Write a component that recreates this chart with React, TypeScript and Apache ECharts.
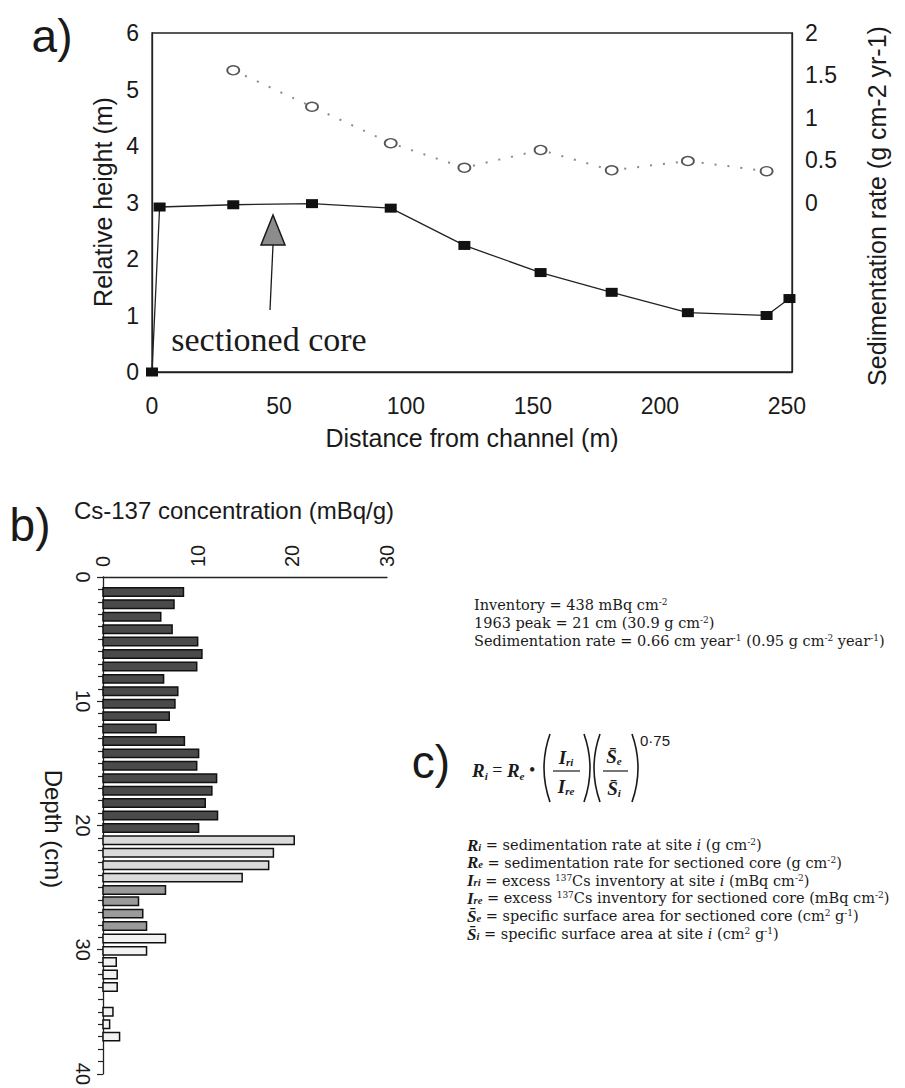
import React, { useEffect, useRef } from 'react';
import * as echarts from 'echarts';

// ---------- Panel a data ----------
const heightDistance = [0, 3, 32, 63, 94, 123, 153, 181, 211, 242, 251];
const relativeHeight = [0, 2.92, 2.96, 2.98, 2.9, 2.24, 1.76, 1.41, 1.05, 1.0, 1.3];
const sedDistance = [32, 63, 94, 123, 153, 181, 211, 242];
const sedRate = [1.56, 1.13, 0.7, 0.41, 0.62, 0.38, 0.49, 0.37];
const distanceTicks = [0, 50, 100, 150, 200, 250];

// ---------- Panel b data ----------
const depthCm = [
  1.2, 2.2, 3.2, 4.2, 5.2, 6.2, 7.2, 8.2, 9.2, 10.2, 11.2, 12.2, 13.2, 14.2, 15.2, 16.2, 17.2, 18.2,
  19.2, 20.2, 21.2, 22.2, 23.2, 24.2, 25.2, 26.1, 27.1, 28.1, 29.1, 30.1, 31, 32, 33, 35, 36, 37,
];
const cs137 = [
  8.5, 7.5, 6.1, 7.3, 10.0, 10.45, 9.9, 6.4, 7.9, 7.6, 7.0, 5.6, 8.6, 10.1, 9.9, 12.0, 11.5, 10.8,
  12.1, 10.1, 20.2, 18.0, 17.5, 14.7, 6.6, 3.75, 4.2, 4.6, 6.6, 4.6, 1.4, 1.5, 1.5, 1.05, 0.7, 1.75,
];

// ---------- Text ----------
const infoLines = [
  'Inventory = 438 mBq cm{sup|-2}',
  '1963 peak = 21 cm (30.9 g cm{sup|-2})',
  'Sedimentation rate = 0.66 cm year{sup|-1} (0.95 g cm{sup|-2} year{sup|-1})',
];
const legendLines = [
  '{it|R}{sub|i} = sedimentation rate at site {iti|i} (g cm{sup|-2})',
  '{it|R}{sub|e} = sedimentation rate for sectioned core (g cm{sup|-2})',
  '{it|I}{sub|ri} = excess {sup|137}Cs inventory at site {iti|i} (mBq cm{sup|-2})',
  '{it|I}{sub|re} = excess {sup|137}Cs inventory for sectioned core (mBq cm{sup|-2})',
  '{it|S\u0304}{sub|e} = specific surface area for sectioned core (cm{sup|2} g{sup|-1})',
  '{it|S\u0304}{sub|i} = specific surface area at site {iti|i} (cm{sup|2} g{sup|-1})',
];

const SANS = '"Liberation Sans", Arial, Helvetica, sans-serif';
const SERIF = '"Liberation Serif", "Times New Roman", serif';
const BODY = '"DejaVu Serif", "Liberation Serif", serif';
const INK = '#1a1a1a';

const bodyRich = {
  sup: { fontFamily: BODY, fontSize: 9, lineHeight: 9, verticalAlign: 'top', fill: INK },
  sub: { fontFamily: SERIF, fontSize: 10.5, lineHeight: 10, verticalAlign: 'bottom', fill: INK, fontStyle: 'italic', fontWeight: 'bold' },
  it: { fontFamily: SERIF, fontSize: 17, fontStyle: 'italic', fontWeight: 'bold', fill: INK },
  iti: { fontFamily: BODY, fontSize: 14.5, fontStyle: 'italic', fill: INK },
};

const eqRich = {
  it: { fontFamily: SERIF, fontSize: 19, fontStyle: 'italic', fontWeight: 'bold', fill: INK },
  sub: { fontFamily: SERIF, fontSize: 11, lineHeight: 11, verticalAlign: 'bottom', fontStyle: 'italic', fontWeight: 'bold', fill: INK },
};

function shade(depth: number): string {
  if (depth < 20.5) return '#4a4a4a';
  if (depth < 24.5) return '#dadada';
  if (depth < 28.5) return '#9a9a9a';
  return '#f2f2f2';
}

function txt(text: string, x: number, y: number, size: number, family: string, opts: any = {}) {
  return {
    type: 'text',
    x,
    y,
    rotation: opts.rotation || 0,
    style: {
      text,
      fill: INK,
      fontSize: size,
      fontFamily: family,
      fontStyle: opts.fontStyle || 'normal',
      fontWeight: opts.fontWeight || 'normal',
      align: opts.align || 'center',
      verticalAlign: opts.verticalAlign || 'middle',
      lineHeight: opts.lineHeight,
      rich: opts.rich,
    },
  };
}

function paren(x: number, top: number, bottom: number, left: boolean) {
  const mid = (top + bottom) / 2;
  return {
    type: 'bezierCurve',
    shape: left
      ? { x1: x + 6, y1: top, cpx1: x - 6, cpy1: mid, x2: x + 6, y2: bottom }
      : { x1: x, y1: top, cpx1: x + 12, cpy1: mid, x2: x, y2: bottom },
    style: { stroke: INK, lineWidth: 1.6, fill: null },
  };
}

function hline(x1: number, x2: number, y: number) {
  return { type: 'line', shape: { x1, y1: y, x2, y2: y }, style: { stroke: INK, lineWidth: 1.2 } };
}

export default function App() {
  const ref = useRef<HTMLDivElement>(null);

  useEffect(() => {
    if (!ref.current) return;
    const chart = echarts.init(ref.current, null, { renderer: 'svg' });

    const graphic: any[] = [
      // panel labels
      txt('a)', 52, 36, 46, SANS),
      txt('b)', 30, 525, 46, SANS),
      txt('c)', 431, 762, 46, SANS),
      // panel a titles
      txt('Relative height (m)', 103, 202, 25, SANS, { rotation: Math.PI / 2 }),
      txt('Distance from channel (m)', 472, 438, 25, SANS),
      txt('Sedimentation rate (g cm-2 yr-1)', 877, 206, 25, SANS, { rotation: Math.PI / 2 }),
      // annotation arrow
      {
        type: 'line',
        shape: { x1: 273, y1: 245, x2: 270, y2: 310 },
        style: { stroke: INK, lineWidth: 1.3 },
      },
      {
        type: 'polygon',
        shape: { points: [[273, 215], [261, 245], [285, 245]] },
        style: { fill: '#8c8c8c', stroke: INK, lineWidth: 1.5 },
      },
      txt('sectioned core', 269, 339, 34, SERIF),
      // panel b titles
      txt('Cs-137 concentration (mBq/g)', 234, 510, 24, SANS),
      txt('Depth (cm)', 53, 829, 24, SANS, { rotation: -Math.PI / 2 }),
      // equation
      txt('{it|R}{sub|i} = {it|R}{sub|e} \u2022', 472, 770, 18, SERIF, { align: 'left', lineHeight: 22, rich: eqRich }),
      paren(544, 734, 802, true),
      txt('{it|I}{sub|ri}', 566, 757, 18, SERIF, { lineHeight: 20, rich: eqRich }),
      hline(553, 580, 771),
      txt('{it|I}{sub|re}', 566, 786, 18, SERIF, { lineHeight: 20, rich: eqRich }),
      paren(584, 734, 802, false),
      paren(594, 734, 802, true),
      txt('{it|S\u0304}{sub|e}', 614, 756, 18, SERIF, { lineHeight: 20, rich: eqRich }),
      hline(603, 628, 771),
      txt('{it|S\u0304}{sub|i}', 614, 788, 18, SERIF, { lineHeight: 20, rich: eqRich }),
      paren(632, 734, 802, false),
      txt('0\u00b775', 640, 740, 15, SANS, { align: 'left' }),
    ];

    infoLines.forEach((line, i) => {
      graphic.push(
        txt(line, 474, 605 + i * 18, 14.5, BODY, { align: 'left', lineHeight: 15, rich: bodyRich }),
      );
    });
    legendLines.forEach((line, i) => {
      graphic.push(
        txt(line, 467, 845 + i * 17.8, 14.5, BODY, { align: 'left', lineHeight: 15, rich: bodyRich }),
      );
    });

    const option: any = {
      animation: false,
      backgroundColor: '#ffffff',
      grid: [
        { left: 152, top: 33, width: 640, height: 339, show: true, borderColor: '#222', borderWidth: 1.3, backgroundColor: 'transparent' },
        { left: 103, top: 577, width: 284, height: 500, show: false },
      ],
      xAxis: [
        {
          type: 'value',
          gridIndex: 0,
          min: 0,
          max: 252,
          interval: 50,
          axisLine: { show: true, lineStyle: { color: '#222', width: 1.3 } },
          axisTick: { show: false },
          splitLine: { show: false },
          axisLabel: {
            fontSize: 23,
            fontFamily: SANS,
            color: INK,
            margin: 22,
            showMaxLabel: false,
            formatter: (v: number) => (distanceTicks.includes(v) ? String(v) : ''),
          },
        },
        {
          type: 'value',
          gridIndex: 1,
          position: 'top',
          min: 0,
          max: 30,
          interval: 10,
          axisLine: { show: true, onZero: false, lineStyle: { color: '#222', width: 1.3 } },
          axisTick: { show: false },
          splitLine: { show: false },
          axisLabel: { fontSize: 20, fontFamily: SANS, color: INK, rotate: -90, margin: 10 },
        },
      ],
      yAxis: [
        {
          type: 'value',
          gridIndex: 0,
          min: 0,
          max: 6,
          interval: 1,
          axisLine: { show: true, lineStyle: { color: '#222', width: 1.3 } },
          axisTick: { show: false },
          splitLine: { show: false },
          axisLabel: { fontSize: 23, fontFamily: SANS, color: INK, margin: 13 },
        },
        {
          type: 'value',
          gridIndex: 0,
          position: 'right',
          min: -2,
          max: 2,
          interval: 0.5,
          axisLine: { show: true, lineStyle: { color: '#222', width: 1.3 } },
          axisTick: { show: false },
          splitLine: { show: false },
          axisLabel: {
            fontSize: 23,
            fontFamily: SANS,
            color: INK,
            margin: 13,
            formatter: (v: number) => (v >= 0 ? String(v) : ''),
          },
        },
        {
          type: 'value',
          gridIndex: 1,
          inverse: true,
          min: 0,
          max: 40,
          interval: 10,
          axisLine: { show: true, onZero: false, lineStyle: { color: '#222', width: 1.3 } },
          axisTick: { show: true, length: 6, lineStyle: { color: '#222', width: 1.2 } },
          minorTick: { show: true, splitNumber: 10, length: 5, lineStyle: { color: '#222', width: 1.2 } },
          splitLine: { show: false },
          axisLabel: { fontSize: 20, fontFamily: SANS, color: INK, rotate: -90, margin: 10 },
        },
      ],
      series: [
        {
          type: 'line',
          xAxisIndex: 0,
          yAxisIndex: 0,
          data: heightDistance.map((d, i) => [d, relativeHeight[i]]),
          symbol: 'rect',
          symbolSize: [12, 9],
          itemStyle: { color: '#111' },
          lineStyle: { color: '#222', width: 1.3 },
          z: 3,
        },
        {
          type: 'line',
          xAxisIndex: 0,
          yAxisIndex: 1,
          data: sedDistance.map((d, i) => [d, sedRate[i]]),
          symbol: 'circle',
          symbolSize: [12, 9],
          showSymbol: true,
          itemStyle: { color: '#ffffff', borderColor: '#555555', borderWidth: 1.6 },
          lineStyle: { color: '#8a8a8a', width: 2, type: [2, 11] },
          z: 3,
        },
        {
          type: 'custom',
          xAxisIndex: 1,
          yAxisIndex: 2,
          data: depthCm.map((d, i) => [cs137[i], d]),
          encode: { x: 0, y: 1 },
          renderItem: (_params: any, api: any) => {
            const v = api.value(0);
            const d = api.value(1);
            const p0 = api.coord([0, d]);
            const p1 = api.coord([v, d]);
            const h = api.size([0, 0.68])[1];
            return {
              type: 'rect',
              shape: { x: p0[0], y: p0[1] - h / 2, width: p1[0] - p0[0], height: h },
              style: { fill: shade(d), stroke: '#111', lineWidth: 1.5 },
            };
          },
          z: 2,
        },
      ],
      graphic,
    };

    chart.setOption(option);
    return () => chart.dispose();
  }, []);

  return (
    <div
      ref={ref}
      style={{ position: 'fixed', left: 0, top: 0, width: 905, height: 1088, background: '#fff' }}
    />
  );
}
